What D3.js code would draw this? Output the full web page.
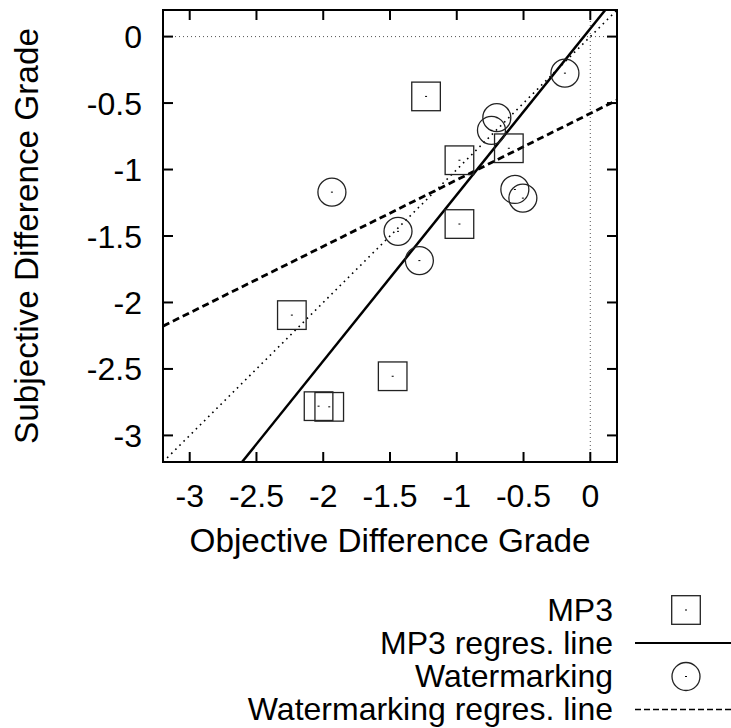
<!DOCTYPE html>
<html>
<head>
<meta charset="utf-8">
<script src="https://cdn.jsdelivr.net/npm/d3@7"></script>
<style>
  html, body { margin: 0; padding: 0; background: #fff; }
  svg { display: block; }
  text { font-family: "Liberation Sans", Arial, Helvetica, sans-serif; fill: #000; }
</style>
</head>
<body>
<script>
// MP3 coded items: objective vs subjective difference grades
const mp3Objective  = [-1.23, -0.98, -0.61, -0.98, -2.235, -2.035, -1.955, -1.48];
const mp3Subjective = [-0.45, -0.93, -0.84, -1.41, -2.095, -2.78, -2.785, -2.555];

// Watermarked items
const wmObjective  = [-0.19, -0.70, -0.74, -0.565, -0.505, -1.935, -1.44, -1.28];
const wmSubjective = [-0.275, -0.61, -0.705, -1.15, -1.215, -1.17, -1.465, -1.685];

// Regression lines: subjective = slope * objective + intercept
const regSlopes     = [1.25, 0.50];
const regIntercepts = [0.06, -0.578];

const tickValues = [-3, -2.5, -2, -1.5, -1, -0.5, 0];
const tickLabels = ["-3", "-2.5", "-2", "-1.5", "-1", "-0.5", "0"];

const legendLabels = ["MP3", "MP3 regres. line", "Watermarking", "Watermarking regres. line"];

const W = 731, H = 728;
const plot = { left: 163, right: 617, top: 10, bottom: 462 };
const domain = [-3.2, 0.2];

const x = d3.scaleLinear().domain(domain).range([plot.left, plot.right]);
const y = d3.scaleLinear().domain(domain).range([plot.bottom, plot.top]);

const svg = d3.select("body").append("svg").attr("width", W).attr("height", H);

svg.append("defs").append("clipPath").attr("id", "plotClip")
  .append("rect")
  .attr("x", plot.left).attr("y", plot.top)
  .attr("width", plot.right - plot.left).attr("height", plot.bottom - plot.top);

const inner = svg.append("g").attr("clip-path", "url(#plotClip)");

function applyAttrs(sel, attrs) { Object.entries(attrs).forEach(([k, v]) => sel.attr(k, v)); return sel; }

// zero reference lines and identity diagonal
const dotted = { stroke: "#555", "stroke-width": 1, "stroke-dasharray": "1,3" };
applyAttrs(inner.append("line")
  .attr("x1", x(domain[0])).attr("x2", x(domain[1]))
  .attr("y1", y(0)).attr("y2", y(0)), dotted);
applyAttrs(inner.append("line")
  .attr("x1", x(0)).attr("x2", x(0))
  .attr("y1", y(domain[0])).attr("y2", y(domain[1])), dotted);
applyAttrs(inner.append("line")
  .attr("x1", x(domain[0])).attr("y1", y(domain[0]))
  .attr("x2", x(domain[1])).attr("y2", y(domain[1])), { stroke: "#000", "stroke-width": 1.6, "stroke-dasharray": "1.6,4.2" });

// regression lines
const regStyles = [
  { stroke: "#000", "stroke-width": 2.5, fill: "none" },
  { stroke: "#000", "stroke-width": 2.8, fill: "none", "stroke-dasharray": "7,4" }
];
regSlopes.forEach((m, i) => {
  const b = regIntercepts[i];
  applyAttrs(inner.append("line")
    .attr("x1", x(domain[0])).attr("y1", y(m * domain[0] + b))
    .attr("x2", x(domain[1])).attr("y2", y(m * domain[1] + b)), regStyles[i]);
});

// markers
const half = 14.3;
const mp3 = mp3Objective.map((v, i) => ({ x: v, y: mp3Subjective[i] }));
const wm = wmObjective.map((v, i) => ({ x: v, y: wmSubjective[i] }));

function drawSquare(g, cx, cy) {
  g.append("rect")
    .attr("x", cx - half).attr("y", cy - half)
    .attr("width", 2 * half).attr("height", 2 * half)
    .attr("fill", "none").attr("stroke", "#222").attr("stroke-width", 1.3);
  g.append("rect").attr("x", cx - 1).attr("y", cy - 0.5).attr("width", 2).attr("height", 1).attr("fill", "#000");
}
function drawCircle(g, cx, cy) {
  g.append("circle").attr("cx", cx).attr("cy", cy).attr("r", 14)
    .attr("fill", "none").attr("stroke", "#222").attr("stroke-width", 1.3);
  g.append("rect").attr("x", cx - 1).attr("y", cy - 0.5).attr("width", 2).attr("height", 1).attr("fill", "#000");
}
const markG = svg.append("g");
mp3.forEach(d => drawSquare(markG, x(d.x), y(d.y)));
wm.forEach(d => drawCircle(markG, x(d.x), y(d.y)));

// frame with inward ticks on all sides
const tickLen = 10;
const axG = svg.append("g").attr("stroke", "#000").attr("stroke-width", 2);
tickValues.forEach(v => {
  axG.append("line").attr("x1", x(v)).attr("x2", x(v)).attr("y1", plot.bottom).attr("y2", plot.bottom - tickLen);
  axG.append("line").attr("x1", x(v)).attr("x2", x(v)).attr("y1", plot.top).attr("y2", plot.top + tickLen);
  axG.append("line").attr("y1", y(v)).attr("y2", y(v)).attr("x1", plot.left).attr("x2", plot.left + tickLen);
  axG.append("line").attr("y1", y(v)).attr("y2", y(v)).attr("x1", plot.right).attr("x2", plot.right - tickLen);
});
axG.append("rect")
  .attr("x", plot.left).attr("y", plot.top)
  .attr("width", plot.right - plot.left).attr("height", plot.bottom - plot.top)
  .attr("fill", "none");

// tick labels
const fs = 32;
svg.append("g").selectAll("text").data(tickValues).join("text")
  .attr("x", d => x(d)).attr("y", 507)
  .attr("text-anchor", "middle").attr("font-size", fs)
  .text((d, i) => tickLabels[i]);
svg.append("g").selectAll("text").data(tickValues).join("text")
  .attr("x", 142).attr("y", d => y(d) + 11.5)
  .attr("text-anchor", "end").attr("font-size", fs)
  .text((d, i) => tickLabels[i]);

// axis titles
svg.append("text")
  .attr("x", (plot.left + plot.right) / 2).attr("y", 552)
  .attr("text-anchor", "middle").attr("font-size", 33.3)
  .text("Objective Difference Grade");
svg.append("text")
  .attr("transform", `translate(38,${(plot.top + plot.bottom) / 2}) rotate(-90)`)
  .attr("text-anchor", "middle").attr("font-size", 33.3)
  .text("Subjective Difference Grade");

// legend
const legRowY = [610, 643, 676.5, 709.5];
const legTextX = 613, legSymX = 686;
legendLabels.forEach((lab, i) => {
  svg.append("text").attr("x", legTextX).attr("y", legRowY[i] + 10.5)
    .attr("text-anchor", "end").attr("font-size", fs).text(lab);
});
const legG = svg.append("g");
drawSquare(legG, legSymX, legRowY[0]);
drawCircle(legG, legSymX, legRowY[2]);
legG.append("line").attr("x1", 635).attr("x2", 735).attr("y1", legRowY[1]).attr("y2", legRowY[1])
  .attr("stroke", "#000").attr("stroke-width", 2);
legG.append("line").attr("x1", 635).attr("x2", 735).attr("y1", legRowY[3]).attr("y2", legRowY[3])
  .attr("stroke", "#000").attr("stroke-width", 1.5).attr("stroke-dasharray", "6,3");
</script>
</body>
</html>
